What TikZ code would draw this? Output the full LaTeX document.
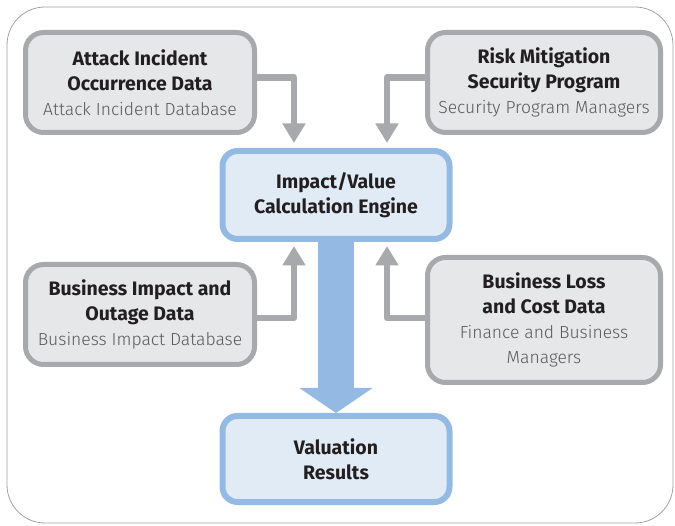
\documentclass[tikz,border=0pt]{standalone}
\usepackage{fontspec}
\setmainfont{Fira Sans}
\newfontfamily\lightfont{Fira Sans Light}
\usetikzlibrary{arrows.meta}
\definecolor{boxgray}{HTML}{A7A9AC}
\definecolor{fillgray}{HTML}{E6E7E8}
\definecolor{boxblue}{HTML}{94BAE3}
\definecolor{fillblue}{HTML}{E1EBF6}
\definecolor{textdark}{HTML}{231F20}
\definecolor{subgray}{HTML}{58595B}
\definecolor{framegray}{HTML}{A0A2A5}
\tikzstyle{source} = [draw=boxgray, fill=fillgray, line width=5pt, rounded corners=18pt, align=center, text=textdark, font=\fontsize{19.5}{25}\selectfont]
\tikzstyle{engine} = [draw=boxblue, fill=fillblue, line width=6pt, rounded corners=15pt, align=center, text=textdark, font=\fontsize{19.5}{25}\selectfont\bfseries]
\tikzstyle{feed} = [draw=boxgray, line width=6.5pt, line join=round, -{Triangle[width=22pt,length=19.5pt]}]
\tikzstyle{result} = [draw=boxblue, line width=35.6pt, -{Triangle[width=72pt,length=25pt]}]
\newcommand{\subtext}[1]{{\lightfont\fontsize{17.5}{25}\selectfont\color{subgray}#1}}

\begin{document}
\begin{tikzpicture}[x=1pt,y=-1pt]
	\useasboundingbox (0,0) rectangle (675,526);
	% Outer frame
	\draw[framegray, line width=0.8pt, rounded corners=38pt] (7,7) rectangle (673,523);
	
	% Boxes
	\node[source, minimum width=229pt, minimum height=100pt] (attack) at (140,82.5)
		{\textbf{Attack Incident}\\\textbf{Occurrence Data}\\\subtext{Attack Incident Database}};
	\node[source, minimum width=233pt, minimum height=100pt] (risk) at (544,82.5)
		{\textbf{Risk Mitigation}\\\textbf{Security Program}\\\subtext{Security Program Managers}};
	\node[source, minimum width=229pt, minimum height=100pt] (impact) at (140,314.5)
		{\textbf{Business Impact and}\\\textbf{Outage Data}\\\subtext{Business Impact Database}};
	\node[source, minimum width=233pt, minimum height=125pt] (loss) at (544,320)
		{\textbf{Business Loss}\\\textbf{and Cost Data}\\\subtext{Finance and Business}\\\subtext{Managers}};
	
	% Result arrow goes below the blue boxes
	\path (336,195) coordinate (c1) (336,459) coordinate (c2);
	\draw[result] ([yshift=-40pt]c1) -- ([yshift=-218pt]c1);
	
	\node[engine, minimum width=227pt, minimum height=88pt] (calc) at (c1)
		{Impact/Value\\Calculation Engine};
	\node[engine, minimum width=227pt, minimum height=86pt] (valuation) at (c2)
		{Valuation\\Results};
	
	% Feeds into the engine
	\draw[feed] ([yshift=5pt]attack.east) -| ([xshift=-42pt,yshift=5pt]calc.north);
	\draw[feed] ([yshift=5pt]risk.west) -| ([xshift=51pt,yshift=5pt]calc.north);
	\draw[feed] ([yshift=-3.5pt]impact.east) -| ([xshift=-42pt,yshift=-4pt]calc.south);
	\draw[feed] ([yshift=2pt]loss.west) -| ([xshift=51pt,yshift=-4pt]calc.south);
\end{tikzpicture}
\end{document}
